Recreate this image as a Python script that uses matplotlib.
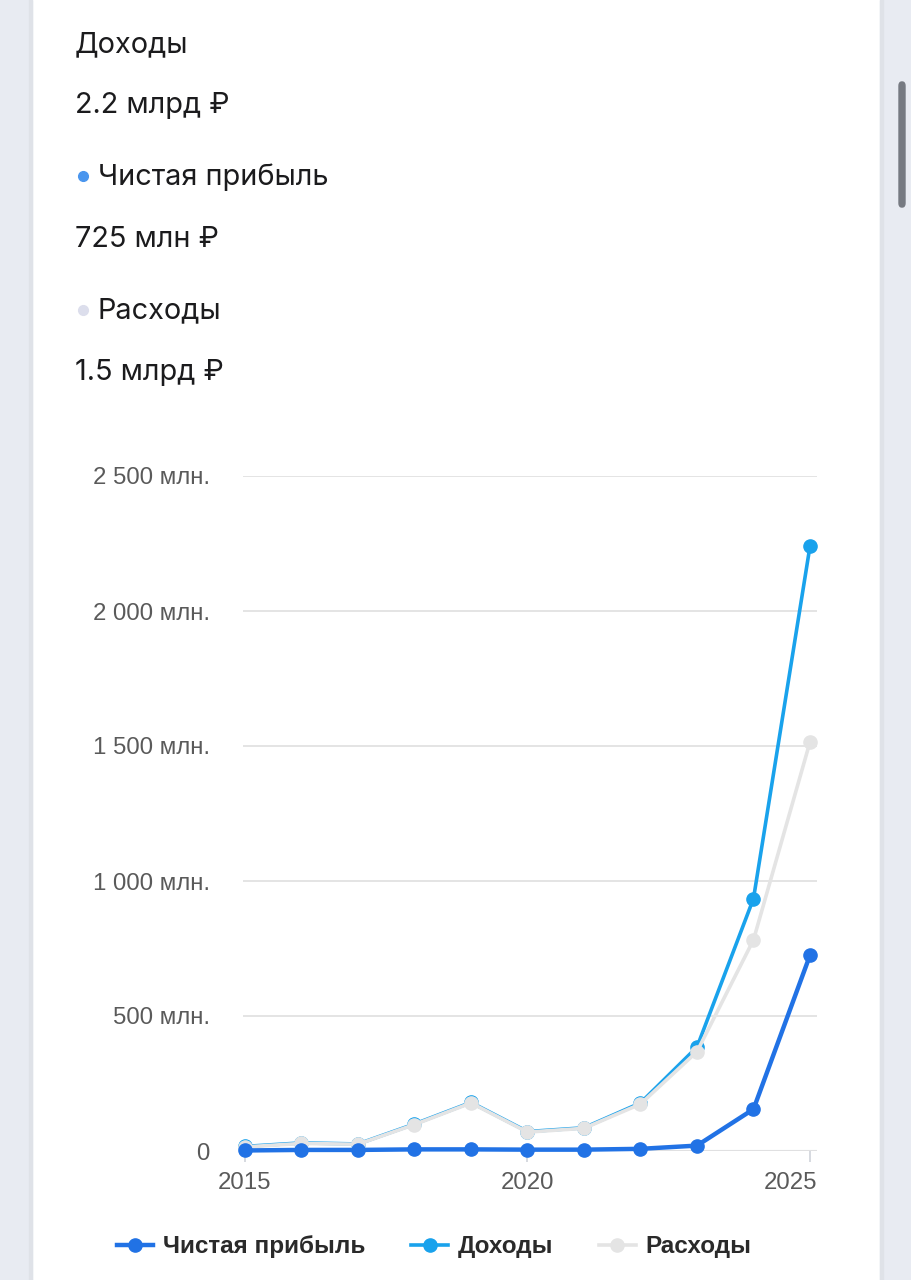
import matplotlib
matplotlib.use("Agg")
import matplotlib.pyplot as plt
import matplotlib.transforms as mtransforms
from matplotlib.patches import Rectangle, FancyBboxPatch

W, H = 912, 1280

years = [2015, 2016, 2017, 2018, 2019, 2020, 2021, 2022, 2023, 2024, 2025]
profit = [2, 4, 4, 6, 6, 5, 5, 8, 20, 155, 725]
income = [17, 30, 26, 100, 180, 72, 86, 178, 385, 935, 2240]
expenses = [15, 28, 25, 98, 178, 70, 84, 174, 368, 782, 1515]

y_ticks = [0, 500, 1000, 1500, 2000, 2500]
y_labels = ["0", "500 млн.", "1 000 млн.", "1 500 млн.", "2 000 млн.", "2 500 млн."]
x_ticks = [2015, 2020, 2025]

series_names = ["Чистая прибыль", "Доходы", "Расходы"]
summary_values = ["2.2 млрд ₽", "725 млн ₽", "1.5 млрд ₽"]

c_profit = "#2172e5"
c_income = "#19a2ec"
c_exp = "#e4e4e4"


def fx(px):
    return px / W


def fy(py):
    return 1 - py / H


fig = plt.figure(figsize=(W / 100, H / 100), dpi=100)
fig.patch.set_facecolor("white")

# phone frame: grey strips on both sides of the white card
fig.patches.append(Rectangle((0, 0), fx(32), 1, transform=fig.transFigure,
                             color="#e8ebf2", zorder=0))
fig.patches.append(Rectangle((fx(880), 0), 1 - fx(880), 1, transform=fig.transFigure,
                             color="#e8ebf2", zorder=0))
fig.patches.append(Rectangle((fx(29), 0), fx(3), 1, transform=fig.transFigure,
                             color="#dfe2e8", zorder=0))
fig.patches.append(Rectangle((fx(880), 0), fx(3), 1, transform=fig.transFigure,
                             color="#dfe2e8", zorder=0))
fig.patches.append(FancyBboxPatch((fx(899), fy(207)), fx(6), (207 - 82) / H,
                                  boxstyle="round,pad=0,rounding_size=0.003",
                                  transform=fig.transFigure, color="#767a82", zorder=1))

# header text
top_font = ["Inter", "DejaVu Sans"]
txt_color = "#1b1b1d"
hs = 20.8
fig.text(fx(75), fy(52), "Доходы", fontsize=hs, family=top_font, color=txt_color)
fig.text(fx(75), fy(113), summary_values[0], fontsize=hs, family=top_font, color=txt_color)
fig.text(fx(98), fy(185), series_names[0], fontsize=hs, family=top_font, color=txt_color)
fig.text(fx(75), fy(247), summary_values[1], fontsize=hs, family=top_font, color=txt_color)
fig.text(fx(98), fy(318), series_names[2], fontsize=hs, family=top_font, color=txt_color)
fig.text(fx(75), fy(380), summary_values[2], fontsize=hs, family=top_font, color=txt_color)
fig.lines.append(plt.Line2D([fx(83)], [fy(176)], marker="o", markersize=7,
                            color="#4a96ee", transform=fig.transFigure))
fig.lines.append(plt.Line2D([fx(83)], [fy(310)], marker="o", markersize=7,
                            color="#dcdeec", transform=fig.transFigure))

# chart
ax = fig.add_axes([fx(243), fy(1151), (817 - 243) / W, (1151 - 476) / H])
ax.set_facecolor("none")
px_per_year = (810 - 245) / 10
ax.set_xlim(2015 - 2 / px_per_year, 2025 + 7 / px_per_year)
ax.set_ylim(0, 2500)

for s in ax.spines.values():
    s.set_visible(False)

ax.set_yticks(y_ticks)
ax.set_yticklabels(y_labels)
ax.set_xticks(x_ticks)
ax.set_xticklabels([str(x) for x in x_ticks])
ax.grid(axis="y", color="#e2e2e2", lw=1.3, zorder=0)
ax.axhline(0, color="#cfd3da", lw=1.5, zorder=1)

tick_font = "Liberation Sans"
ax.tick_params(axis="y", length=0, pad=24, labelsize=17.3, labelcolor="#5a5a5a")
ax.tick_params(axis="x", length=8, width=1.2, color="#cfd3da", pad=7,
               labelsize=17.3, labelcolor="#5a5a5a")
for lbl in ax.get_xticklabels() + ax.get_yticklabels():
    lbl.set_family(tick_font)

# last year label is kept inside the plot area, like the original
last = ax.get_xticklabels()[-1]
last.set_ha("right")
last.set_transform(last.get_transform() +
                   mtransforms.ScaledTranslation(7 / 100, 0, fig.dpi_scale_trans))

l1, = ax.plot(years, profit, color=c_profit, lw=3.2, marker="o", markersize=9.5,
              zorder=5, clip_on=False, label=series_names[0])
l2, = ax.plot(years, income, color=c_income, lw=2.6, marker="o", markersize=9.5,
              zorder=3, clip_on=False, label=series_names[1])
l3, = ax.plot(years, expenses, color=c_exp, lw=2.6, marker="o", markersize=9.5,
              zorder=4, clip_on=False, label=series_names[2])

leg = fig.legend(handles=[l1, l2, l3], loc="center", bbox_to_anchor=(fx(434), fy(1247)),
                 ncol=3, frameon=False, handlelength=1.5, handletextpad=0.4,
                 columnspacing=1.9, prop={"family": tick_font, "weight": "bold", "size": 17.5})
for t in leg.get_texts():
    t.set_color("#2a2a2a")

fig.savefig("out.png", dpi=100)
